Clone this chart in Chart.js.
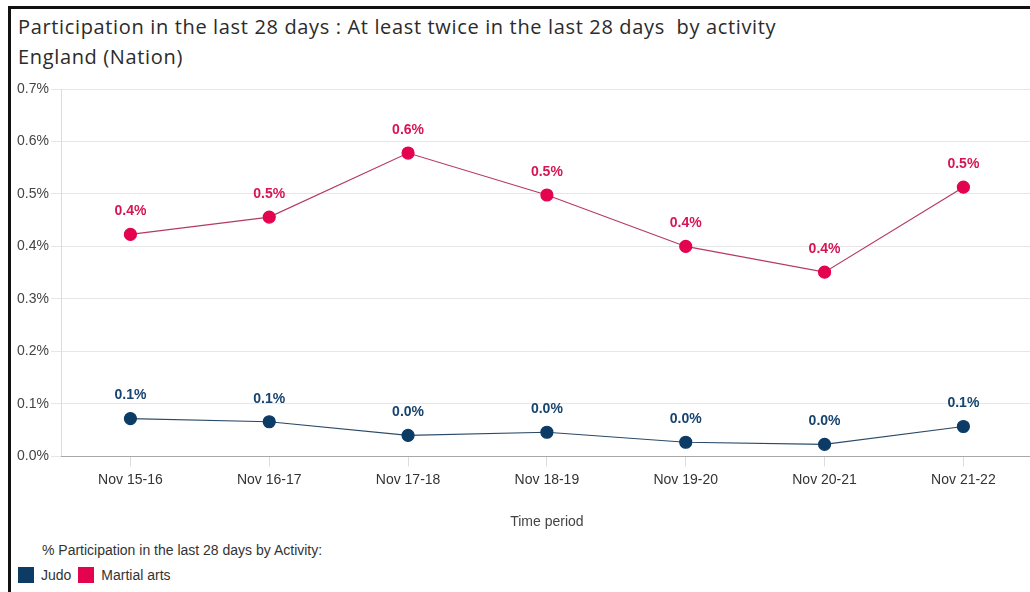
<!DOCTYPE html>
<html>
<head>
<meta charset="utf-8">
<script src="https://cdn.jsdelivr.net/npm/chart.js@4.4.1/dist/chart.umd.min.js"></script>
<style>
    body { margin: 0; background: #fff; overflow: hidden; width: 1030px; height: 592px; position: relative; }
    .frame { position: absolute; left: 8px; top: 6px; width: 1030px; height: 600px; border-left: 3px solid #111; border-top: 3px solid #111; }
    .title { position: absolute; left: 18px; top: 12px; font-family: 'Open Sans', sans-serif; font-size: 20px; letter-spacing: 0.65px; line-height: 30px; color: #2b2b2b; white-space: pre; }
    .chart-wrap { position: absolute; left: 0; top: 0; width: 1040px; height: 540px; }
    .legend-title { position: absolute; left: 42px; top: 542px; font-family: 'Liberation Sans', Arial, sans-serif; font-size: 14px; color: #333; }
    .legend { position: absolute; left: 18px; top: 567px; font-family: 'Liberation Sans', Arial, sans-serif; font-size: 14px; color: #333; display: flex; align-items: center; }
    .legend .sw { width: 16px; height: 16px; display: inline-block; margin-right: 7px; }
    .legend .item { display: flex; align-items: center; margin-right: 7px; }
</style>
</head>
<body>
<div class="frame"></div>
<div class="title">Participation in the last 28 days : At least twice in the last 28 days  by activity
England (Nation)</div>
<div class="chart-wrap"><canvas id="chart-participation" width="1040" height="540"></canvas></div>
<div class="legend-title">% Participation in the last 28 days by Activity:</div>
<div class="legend" id="legend"></div>

<script>
// categories and series (values in %)
const periods = ['Nov 15-16', 'Nov 16-17', 'Nov 17-18', 'Nov 18-19', 'Nov 19-20', 'Nov 20-21', 'Nov 21-22'];
const judoValues = [0.072, 0.066, 0.040, 0.046, 0.027, 0.023, 0.057];
const martialArtsValues = [0.423, 0.456, 0.578, 0.498, 0.400, 0.351, 0.513];
const yTicks = [0, 0.1, 0.2, 0.3, 0.4, 0.5, 0.6, 0.7];

const judoColor = '#0c3c66';
const martialColor = '#e4034f';

// simple inline value labels above each point
const pointLabels = {
    id: 'pointLabels',
    afterDatasetsDraw(chart) {
        const ctx = chart.ctx;
        ctx.save();
        ctx.font = 'bold 14px "Liberation Sans", Arial, sans-serif';
        ctx.textAlign = 'center';
        ctx.textBaseline = 'middle';
        chart.data.datasets.forEach(function(ds, i) {
            const meta = chart.getDatasetMeta(i);
            ctx.fillStyle = ds.labelColor;
            meta.data.forEach(function(pt, j) {
                ctx.fillText(ds.data[j].toFixed(1) + '%', pt.x, pt.y - 23);
            });
        });
        ctx.restore();
    }
};

document.addEventListener('DOMContentLoaded', function() {
    const ctx = document.getElementById('chart-participation').getContext('2d');

    const chart = new Chart(ctx, {
        type: 'line',
        data: {
            labels: periods,
            datasets: [{
                label: 'Judo',
                data: judoValues,
                borderColor: '#2b4a68',
                borderWidth: 1.2,
                pointBackgroundColor: judoColor,
                pointBorderColor: judoColor,
                pointRadius: 6,
                labelColor: '#16446e',
                tension: 0
            }, {
                label: 'Martial arts',
                data: martialArtsValues,
                borderColor: '#b53a62',
                borderWidth: 1.2,
                pointBackgroundColor: martialColor,
                pointBorderColor: martialColor,
                pointRadius: 6,
                labelColor: '#d81553',
                tension: 0
            }]
        },
        plugins: [pointLabels],
        options: {
            responsive: false,
            animation: false,
            layout: {
                padding: { top: 89, left: 17, right: 1, bottom: 3 }
            },
            plugins: {
                legend: { display: false },
                tooltip: { enabled: false }
            },
            scales: {
                y: {
                    min: 0,
                    max: 0.7,
                    afterFit: function(scale) { scale.width = 44; },
                    afterBuildTicks: function(scale) {
                        scale.ticks = yTicks.map(function(v) { return { value: v }; });
                    },
                    grid: { color: '#e6e6e6', tickLength: 10 },
                    border: { color: '#dcdcdc' },
                    ticks: {
                        crossAlign: 'far',
                        color: '#444',
                        font: { family: '"Liberation Sans", Arial, sans-serif', size: 14 },
                        callback: function(value) { return value.toFixed(1) + '%'; }
                    }
                },
                x: {
                    offset: true,
                    grid: { display: true, drawOnChartArea: false, offset: false, color: '#dcdcdc', tickLength: 10 },
                    border: { color: '#a8a8a8' },
                    ticks: {
                        color: '#333',
                        padding: 5,
                        maxRotation: 0,
                        font: { family: '"Liberation Sans", Arial, sans-serif', size: 14 }
                    },
                    title: {
                        display: true,
                        text: 'Time period',
                        color: '#444',
                        padding: { top: 21, bottom: 6 },
                        font: { family: '"Liberation Sans", Arial, sans-serif', size: 14 }
                    }
                }
            }
        }
    });

    // html legend
    const legend = document.getElementById('legend');
    chart.data.datasets.forEach(function(ds) {
        const item = document.createElement('span');
        item.className = 'item';
        item.innerHTML = '<span class="sw" style="background:' + ds.pointBackgroundColor + '"></span>' + ds.label;
        legend.appendChild(item);
    });
});
</script>
</body>
</html>
